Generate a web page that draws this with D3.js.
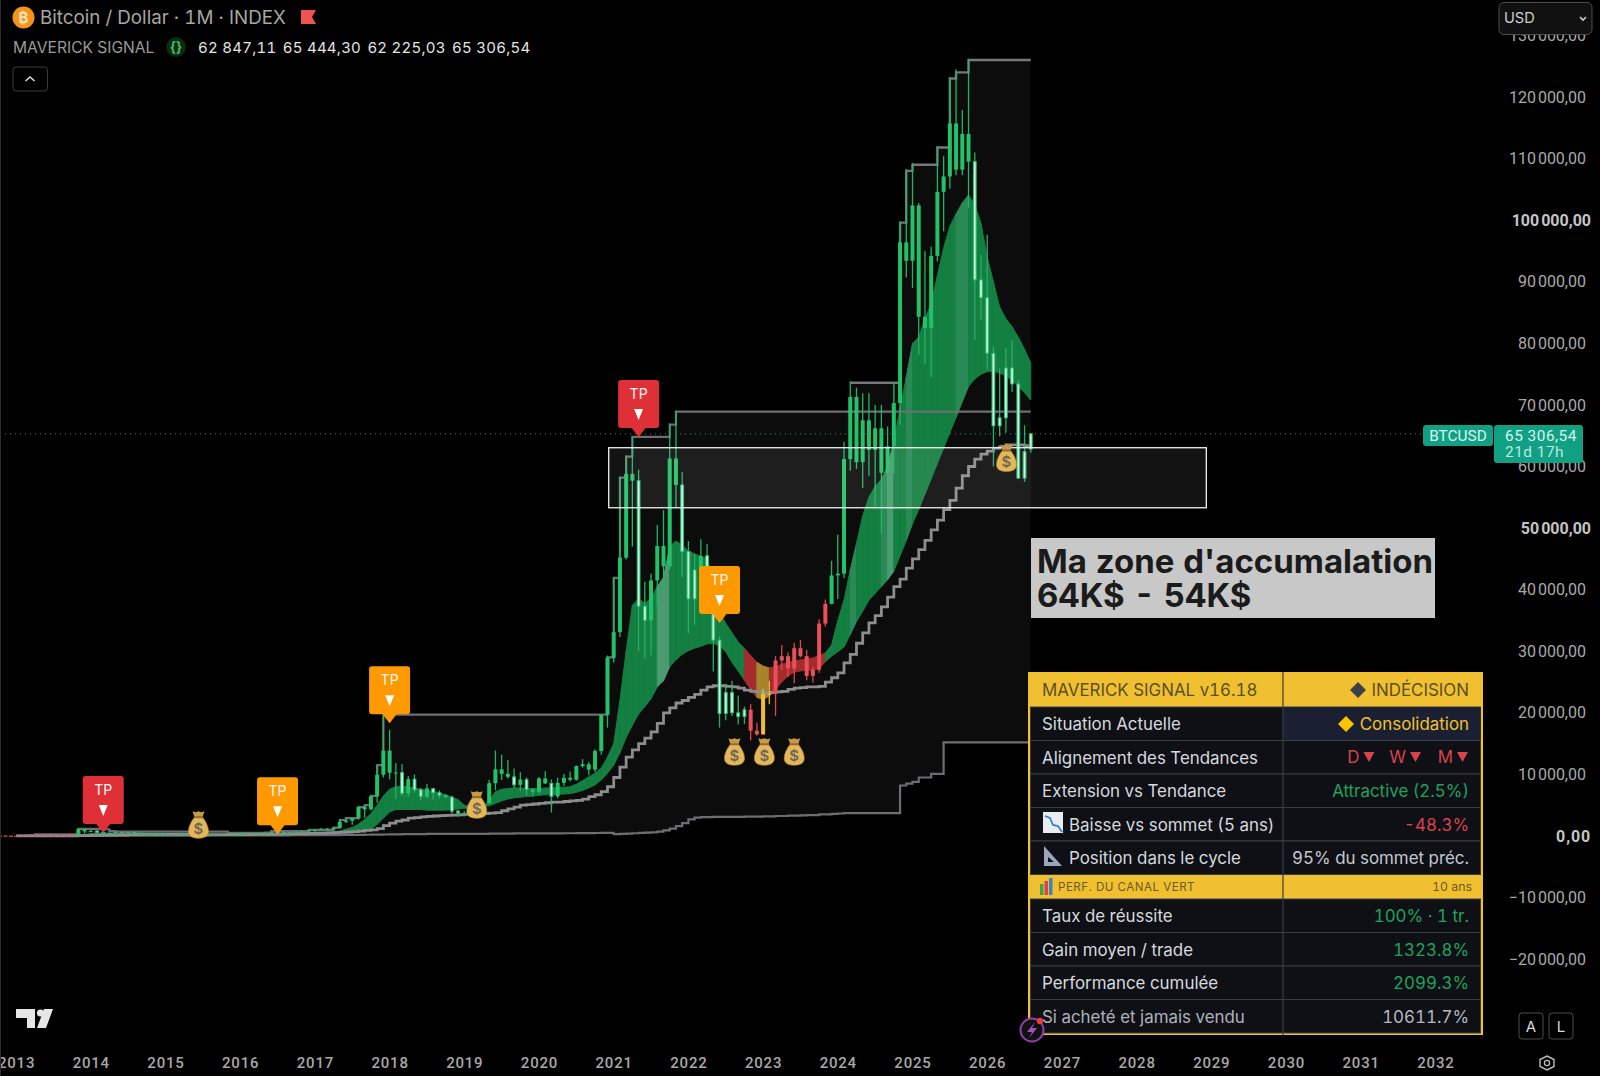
<!DOCTYPE html>
<html>
<head>
<meta charset="utf-8">
<script src="https://cdn.jsdelivr.net/npm/d3@7"></script>
<style>
  html, body { margin: 0; padding: 0; background: #000; overflow: hidden; }
  text { font-family: Inter, Roboto, sans-serif; font-feature-settings: "tnum" 1; }
</style>
</head>
<body>
<div id="chart"></div>
<script>
const WIDTH = 1600;
const HEIGHT = 1076;

// monthly bars, first one is Jan 2013, last one Aug 2026 (o, h, l, c)
const candles = [
  [13,21,13,20],[20,33,20,33],[33,95,33,93],[93,266,50,139],[139,140,65,128],[128,130,88,97],[97,110,65,105],[105,140,100,135],[135,145,120,133],[133,220,120,204],[204,1160,200,1130],[1130,1163,380,750],
  [750,1000,740,830],[830,860,400,550],[550,700,440,460],[460,550,340,445],[445,630,440,630],[630,680,530,640],[640,660,560,585],[585,600,450,480],[480,490,360,390],[390,420,275,340],[340,460,320,375],[375,385,300,320],
  [320,320,170,230],[230,265,210,255],[255,300,235,245],[245,260,215,235],[235,245,228,230],[230,270,220,265],[265,315,255,285],[285,285,200,230],[230,245,225,236],[236,335,235,315],[315,500,310,377],[377,465,350,430],
  [430,460,355,370],[370,445,365,435],[435,440,390,415],[415,470,415,450],[450,550,440,530],[530,780,530,675],[675,700,605,625],[625,625,470,575],[575,610,570,610],[610,730,605,700],[700,780,685,745],[745,980,745,965],
  [965,1150,750,970],[970,1210,930,1190],[1190,1290,900,1080],[1080,1350,1070,1350],[1350,2760,1340,2300],[2300,2990,2100,2480],[2480,2920,1830,2870],[2870,4750,2670,4700],[4700,5000,2950,4340],[4340,6470,4100,6450],[6450,11500,5400,9950],[9950,19700,9500,13860],
  [13860,17250,9200,10260],[10260,11800,6000,10300],[10300,11700,6500,6930],[6930,9760,6430,9240],[9240,10000,7030,7500],[7500,7780,5780,6400],[6400,8450,6070,7730],[7730,7740,5880,7010],[7010,7400,6100,6620],[6620,6800,6100,6320],[6320,6550,3650,4040],[4040,4240,3120,3740],
  [3740,4070,3340,3460],[3460,4200,3370,3850],[3850,4140,3730,4100],[4100,5640,4090,5300],[5300,9080,5270,8570],[8570,13880,7460,10820],[10820,13200,9100,10090],[10090,12330,9320,9600],[9600,10950,7710,8300],[8300,10370,7300,9150],[9150,9510,6550,7570],[7570,7760,6430,7190],
  [7190,9570,6850,9350],[9350,10520,8450,8550],[8550,9190,3800,6440],[6440,9470,6150,8630],[8630,10070,8100,9450],[9450,10490,8830,9140],[9140,11440,8990,11350],[11350,12480,11110,11650],[11650,12070,9860,10780],[10780,14100,10380,13800],[13800,19500,13200,19700],[19700,29300,17600,28950],
  [28950,41950,28130,33100],[33100,58350,32300,45200],[45200,61800,44900,58800],[58800,64800,47000,57700],[57700,59500,30000,37300],[37300,41300,28800,35000],[35000,42600,29300,41500],[41500,50500,37300,47100],[47100,52900,39600,43800],[43800,67000,43300,61300],[61300,69000,53300,57000],[57000,59100,42000,46200],
  [46200,47900,32900,38500],[38500,45800,34300,43200],[43200,48200,37200,45500],[45500,47400,37500,37700],[37700,40000,26700,31800],[31800,32400,17600,19900],[19900,24700,18800,23300],[23300,25200,19500,20000],[20000,22800,18100,19400],[19400,21000,18200,20500],[20500,21400,15500,17100],[17100,18400,16300,16500],
  [16500,23900,16500,23100],[23100,25200,21400,23100],[23100,29200,19500,28500],[28500,31000,26900,29200],[29200,29800,25800,27200],[27200,31400,24800,30500],[30500,31800,29000,29200],[29200,30200,25300,26000],[26000,27500,24900,27000],[27000,35200,26500,34500],[34500,38400,34000,37700],[37700,44700,37600,42300],
  [42300,48900,38500,42600],[42600,64000,41900,61200],[61200,73800,59300,71300],[71300,72800,59600,60700],[60700,71900,56500,67500],[67500,71900,58500,62700],[62700,70000,53500,66200],[66200,70000,49000,59000],[59000,66500,52600,63300],[63300,73600,58900,70300],[70300,99800,66800,96400],[96400,108300,90700,93400],
  [93400,109300,89000,102400],[102400,102800,78200,84300],[84300,95000,76600,82500],[82500,95700,74500,94200],[94200,112000,93300,104600],[104600,110400,98200,107100],[107100,123200,105100,115700],[115700,124500,107300,108200],[108200,117900,107300,114000],[114000,126200,102000,109500],[109500,111000,80600,90300],[90300,94400,83800,87400],
  [87400,97600,75700,78400],[78400,79500,60000,66600],[66600,75900,64900,67900],[67900,79300,65500,76000],[76000,80500,72100,73400],[73400,74000,58100,58100],[58100,66700,57500,62400],[62847.11,65444.30,62225.03,65306.54]
];

// g green, m mint, r red, y yellow
const candleKinds = [
  "rrrrrrrrrrgg", "gmmggggmmmgm", "mggmmggggggg", "mgggggmmgggg", "gggggggggggg", "ggmgmmgmmgmm", "ggggggggmgmg",
  "ggmggggggggg", "ggggmmgggggm", "mmgmmmmmmmrr", "yyrrrrrrrrrg", "gggggggggggg", "ggggggggggmm", "mmmmmmmm"
].join("");

// three red dashes left of the first year label
const earlyMonths = [-2.6, -1.7, -0.8];
const earlyPrices = [11, 11, 12];

const ribbonUpper = [
  20,25,30,45,60,70,80,85,95,100,130,250,
  400,450,470,480,500,520,520,510,480,440,420,400,
  350,320,300,280,270,270,270,265,260,265,280,310,
  340,350,370,390,420,470,500,510,520,540,570,620,
  600,620,650,680,800,1100,1400,1900,2700,3600,5000,6500,
  7600,8000,8100,8000,7800,7600,7400,7300,7000,6700,6300,5900,
  5000,4700,4600,4700,5800,7200,7600,7700,7800,7800,7700,7700,
  7700,7800,7800,7900,7900,8000,8400,9000,9600,10200,11000,12800,
  15000,22000,30000,37500,38500,37800,38500,40500,42000,47000,47900,47200,
  46300,45800,45400,45000,42000,36500,34500,33000,31500,30500,29300,28200,
  27600,27300,27500,27900,28200,28400,28600,28700,28900,29300,29700,31000,
  35000,38300,43200,47500,52000,55000,56800,57900,60000,64000,69500,74500,
  80000,81000,84000,86500,91000,95500,99000,101000,102800,104100,102500,99500,
  94000,90000,85900,84000,82700,81000,79000,76800
];

const ribbonLower = [
  10,12,15,20,30,40,50,55,60,65,75,100,
  150,180,210,240,270,300,320,340,340,340,335,330,
  310,290,280,265,255,250,245,240,240,240,245,255,
  270,280,290,300,320,340,370,400,420,440,460,490,
  350,370,390,420,470,520,600,720,850,1100,1900,2900,
  3900,4300,4300,4300,4300,4300,4200,4200,4200,4200,4300,4400,
  4500,4600,4700,4800,4900,5300,5700,6000,6200,6300,6400,6500,
  6600,6700,6700,6800,6800,6900,7100,7400,7800,8300,9100,10200,
  11500,13500,16000,18000,19800,21000,22300,24200,25200,27500,28600,29500,
  30100,30500,30800,31200,31300,30900,29900,28200,26800,25300,23800,22500,
  22200,22700,23800,25000,26000,26600,26800,26900,26900,27200,28300,29200,
  29900,30700,32700,34800,36500,38300,39400,40500,41600,43000,45500,48000,
  50700,53000,55500,58000,60500,63000,65500,68000,70500,73000,74200,75000,
  75400,75500,75200,74700,74000,73000,72000,70800
];

// g green, l pale stripe, s softer stripe, r red, y yellow
const ribbonKinds = [
  "gggggggggggg", "gggggggggggg", "gggggggggggg", "gggggggggggg", "gggggggggggg", "gggggggggggg", "gggggggggggg",
  "gggggggggggg", "gggggggllggg", "gggggggggrry", "yrrrrrrrrrgg", "ggsggggslggs", "gggggggssggg", "gggggggg"
].join("");

const midSteps = [
  5,6,8,10,15,20,25,30,35,40,50,70,
  100,120,140,160,180,200,220,240,250,260,260,270,
  260,250,245,240,235,230,230,225,225,225,225,230,
  235,240,250,260,270,290,310,330,350,370,390,420,
  450,480,510,550,600,650,700,800,900,1000,1200,1700,
  2100,2400,2600,2900,3000,3100,3200,3250,3300,3350,3400,3450,
  3500,3600,3600,3650,3700,3800,4100,4400,4700,5000,5100,5200,
  5300,5400,5500,5500,5600,5700,5800,6000,6400,6700,7200,8000,
  9500,11200,12800,14000,15000,15900,16900,18300,20000,20800,21600,22000,
  22500,23000,23700,24200,24400,24400,24300,24200,24000,23700,23500,23400,
  23300,23300,23400,23500,23800,24000,24100,24200,24200,24300,25000,25700,
  26500,28100,29500,31300,33000,34600,35800,37200,38800,40500,41700,43500,
  45000,46500,48000,49700,51300,53000,54500,56500,58500,60000,61200,62000,
  62500,63000,63200,63500,63500,63500,63400,63300
];

const lowSteps = [
  10,10,10,10,10,10,10,10,10,10,10,10,
  20,20,20,30,30,30,40,40,50,50,50,50,
  60,60,60,70,70,70,70,80,80,80,80,90,
  90,90,100,100,100,110,110,110,120,120,130,130,
  140,140,150,150,160,170,180,190,200,210,220,240,
  260,280,300,300,320,320,330,330,340,340,350,350,
  350,360,360,360,370,380,400,400,420,420,420,430,
  430,440,440,440,450,450,460,470,480,490,500,520,
  300,350,400,450,500,550,600,700,900,1200,1600,2100,
  2700,3000,3050,3050,3100,3100,3100,3100,3100,3150,3150,3150,
  3200,3200,3250,3250,3300,3300,3350,3400,3400,3500,3500,3600,
  3650,3700,3700,3700,3700,3700,3700,3700,3700,3700,8200,8500,
  8800,9500,9500,10100,10100,15200,15200,15200,15200,15200,15200,15200,
  15200,15200,15200,15200,15200,15200,15200,15200
];

const topSteps = [
  20,33,95,266,266,266,266,266,266,266,1160,1163,
  1163,1163,1100,800,700,700,700,700,700,700,700,700,
  700,700,700,700,700,700,700,700,700,700,500,500,
  500,500,500,500,550,780,780,780,780,780,780,980,
  980,980,1000,1350,2600,2900,2900,4700,5000,6500,11500,19700,
  19700,19700,19700,19700,19700,19700,19700,19700,19700,19700,19700,19700,
  19700,19700,19700,19700,19700,19700,19700,19700,19700,19700,19700,19700,
  19700,19700,19700,19700,19700,19700,19700,19700,19700,19700,19700,29000,
  41900,58200,61600,64800,64800,64800,64800,64800,64800,66800,68900,68900,
  68900,68900,68900,68900,68900,68900,68900,68900,68900,68900,68900,68900,
  68900,68900,68900,68900,68900,68900,68900,68900,68900,68900,68900,68900,
  68900,68900,68900,68900,68900,68900,68900,68900,68900,68900,68900,68900,
  68900,68900,68900,68900,68900,68900,68900,68900,68900,68900,68900,68900,
  68900,68900,68900,68900,68900,68900,68900,68900
];

// second resistance line, only from Mar 2024
const highStepsStart = 134;
const highSteps = [
  73600,73600,73600,73600,73600,73600,73600,73600,99600,108000,
  109000,109000,109000,109000,111800,111800,123000,124000,124000,126000,126000,126000,
  126000,126000,126000,126000,126000,126000,126000,126000
];

const yearTicks = d3.range(2013, 2033);
const priceTicks = [-20000,-10000,0,10000,20000,30000,40000,50000,60000,70000,80000,90000,100000,110000,120000,130000];
const boldPrices = [0, 50000, 100000];

// flags: month index of the bar, price of the tip
const tpMonths = [14, 42, 60, 100, 113];
const tpPrices = [490, 300, 18300, 64800, 34600];
const tpColors = ["#df3038", "#ff9900", "#ff9900", "#df3038", "#ff9900"];

const bagMonths = [29.3, 74, 115.4, 120.2, 125, 159.1];
const bagPrices = [1750, 5000, 13600, 13600, 13600, 61300];

const zoneTop = 63050;
const zoneBottom = 53300;
const zoneStartMonth = 95.2;
const zoneEndMonth = 191.2;

const tableRowsTop = [
  ["Situation Actuelle", "Consolidation", "#f2c12e"],
  ["Alignement des Tendances", "", "#d9434a"],
  ["Extension vs Tendance", "Attractive (2.5%)", "#1fa35c"],
  ["Baisse vs sommet (5 ans)", "-48.3%", "#d9434a"],
  ["Position dans le cycle", "95% du sommet préc.", "#c5c8cf"]
];
const tableRowsBottom = [
  ["Taux de réussite", "100% · 1 tr.", "#1fa35c"],
  ["Gain moyen / trade", "1323.8%", "#1fa35c"],
  ["Performance cumulée", "2099.3%", "#1fa35c"],
  ["Si acheté et jamais vendu", "10611.7%", "#b6b9c0"]
];
const trendLabels = ["D", "W", "M"];
const ohlcLabels = ["62 847,11", "65 444,30", "62 225,03", "65 306,54"];

const svg = d3.select("#chart").append("svg")
  .attr("width", WIDTH)
  .attr("height", HEIGHT)
  .style("display", "block");

svg.append("rect").attr("width", WIDTH).attr("height", HEIGHT).attr("fill", "#000");

// scales: x is in months since Jan 2013
const x = d3.scaleLinear().domain([0, 240]).range([16.1, 1510.1]);
const y = d3.scaleLinear().domain([0, 120000]).range([836, 97]);

const frNumber = d3.formatLocale({ decimal: ",", thousands: "\u202f", grouping: [3], currency: ["", ""], minus: "\u2212" }).format(",.2f");

const months = d3.range(candles.length);
const topOf = (i) => i >= highStepsStart ? highSteps[i - highStepsStart] : topSteps[i];

// faint panel between the outer step lines
svg.append("path")
  .attr("fill", "#0c0c0c")
  .attr("d", d3.area()
    .curve(d3.curveStepAfter)
    .x(i => x(i))
    .y0(i => y(lowSteps[i]))
    .y1(i => y(topOf(i)))(months));

// ribbon, coloured month by month
const ribbonColors = { g: "#137f41", l: "#4b9a70", s: "#2a8a55", r: "#a52c2e", y: "#a5842b" };
const ribbonArea = d3.area().x(i => x(i)).y0(i => y(ribbonLower[i])).y1(i => y(ribbonUpper[i]));
svg.append("g").selectAll("path")
  .data(months.slice(0, -1))
  .enter().append("path")
  .attr("fill", i => ribbonColors[ribbonKinds[i]])
  .attr("stroke", i => ribbonColors[ribbonKinds[i]])
  .attr("stroke-width", 1)
  .attr("d", i => ribbonArea([i, i + 1]));

// step lines
const stepLine = d3.line().curve(d3.curveStepAfter).x(d => x(d[0])).y(d => y(d[1]));
const stepSeries = [
  { values: months.map(i => [i, topSteps[i]]), color: "#6e6e72", width: 2.2 },
  { values: highSteps.map((v, k) => [highStepsStart + k, v]), color: "#77777b", width: 2.4 },
  { values: months.map(i => [i, lowSteps[i]]), color: "#6e6e72", width: 2.2 },
  { values: months.map(i => [i, midSteps[i]]), color: "#8d8d8f", width: 2.8 }
];
svg.append("g").selectAll("path")
  .data(stepSeries)
  .enter().append("path")
  .attr("fill", "none")
  .attr("stroke", d => d.color)
  .attr("stroke-width", d => d.width)
  .attr("d", d => stepLine(d.values));

// price line
svg.append("line")
  .attr("x1", 0).attr("x2", 1423)
  .attr("y1", y(65306.54)).attr("y2", y(65306.54))
  .attr("stroke", "#1f8f78")
  .attr("stroke-width", 1)
  .attr("stroke-dasharray", "1 4");

// red dashes before the first bar
svg.append("g").selectAll("rect")
  .data(earlyMonths)
  .enter().append("rect")
  .attr("x", d => x(d) - 2)
  .attr("y", (d, k) => y(earlyPrices[k]) - 0.5)
  .attr("width", 4)
  .attr("height", 1.5)
  .attr("fill", "#c0424a");

// candles
const wickColors = { g: "#23b565", m: "#2aae6c", r: "#e0474f", y: "#eab82e" };
const bodyColors = { g: "#23c268", m: "#c4f5da", r: "#e9505a", y: "#f0bf30" };
const edgeColors = { g: "#23c268", m: "#2bb873", r: "#e9505a", y: "#f0bf30" };
const candleG = svg.append("g").selectAll("g")
  .data(months)
  .enter().append("g");
candleG.append("line")
  .attr("x1", i => x(i)).attr("x2", i => x(i))
  .attr("y1", i => y(candles[i][1]))
  .attr("y2", i => y(candles[i][2]))
  .attr("stroke", i => wickColors[candleKinds[i]])
  .attr("stroke-width", 1.3);
candleG.append("rect")
  .attr("x", i => x(i) - (candleKinds[i] === "m" ? 1.4 : 2))
  .attr("width", i => candleKinds[i] === "m" ? 2.8 : 4)
  .attr("y", i => Math.min(y(candles[i][0]), y(candles[i][3])))
  .attr("height", i => Math.max(1, Math.abs(y(candles[i][0]) - y(candles[i][3]))))
  .attr("fill", i => bodyColors[candleKinds[i]])
  .attr("stroke", i => edgeColors[candleKinds[i]])
  .attr("stroke-width", i => candleKinds[i] === "m" ? 1 : 0);

// accumulation zone
svg.append("rect")
  .attr("x", x(zoneStartMonth))
  .attr("width", x(zoneEndMonth) - x(zoneStartMonth))
  .attr("y", y(zoneTop))
  .attr("height", y(zoneBottom) - y(zoneTop))
  .attr("fill", "rgba(255,255,255,0.075)")
  .attr("stroke", "#f2f2f2")
  .attr("stroke-width", 1.3);

// money bags
const bag = svg.append("g").selectAll("g")
  .data(bagMonths)
  .enter().append("g")
  .attr("transform", (d, k) => `translate(${x(d)},${y(bagPrices[k])})`);
bag.append("path")
  .attr("fill", "#e6b758")
  .attr("stroke", "#b98d3a")
  .attr("stroke-width", 0.6)
  .attr("d", "M-4,-8 C-8,-3 -10,2 -10,6 C-10,11 -6,13 0,13 C6,13 10,11 10,6 C10,2 8,-3 4,-8 Z");
bag.append("path")
  .attr("fill", "#c99a45")
  .attr("d", "M-6,-14 L-3,-13 L0,-14 L3,-13 L6,-14 L4,-8 L-4,-8 Z");
bag.append("rect")
  .attr("x", -4.5).attr("y", -9).attr("width", 9).attr("height", 2)
  .attr("fill", "#8f6c2c");
bag.append("text")
  .attr("y", 8.5)
  .attr("text-anchor", "middle")
  .attr("font-size", 15)
  .attr("font-weight", 600)
  .attr("fill", "#6f675a")
  .text("$");

// TP flags
const flag = svg.append("g").selectAll("g")
  .data(tpMonths)
  .enter().append("g")
  .attr("transform", (d, k) => `translate(${x(d)},${y(tpPrices[k])})`);
flag.append("path")
  .attr("fill", (d, k) => tpColors[k])
  .attr("d", "M0,0 L-7,-9 L-17.5,-9 Q-20.5,-9 -20.5,-12 L-20.5,-54 Q-20.5,-57 -17.5,-57 L17.5,-57 Q20.5,-57 20.5,-54 L20.5,-12 Q20.5,-9 17.5,-9 L7,-9 Z");
flag.append("text")
  .attr("y", -38)
  .attr("text-anchor", "middle")
  .attr("font-size", 14)
  .attr("fill", "#f6f6f6")
  .text("TP");
flag.append("path")
  .attr("fill", "#fff")
  .attr("d", "M-4.5,-28 L4.5,-28 L0,-17 Z");

// y axis
const yAxis = svg.append("g")
  .attr("transform", "translate(1586,0)")
  .call(d3.axisRight(y).tickValues(priceTicks).tickFormat(frNumber).tickSize(0).tickPadding(0));
yAxis.select(".domain").remove();
yAxis.selectAll("text")
  .attr("text-anchor", "end")
  .attr("x", d => boldPrices.includes(d) ? 5 : 0)
  .attr("font-size", 16)
  .attr("letter-spacing", "0.85")
  .attr("font-weight", d => boldPrices.includes(d) ? 700 : 400)
  .attr("fill", d => boldPrices.includes(d) ? "#c4c4c4" : "#a9a9a9")
  .style("font-family", "Roboto");

// x axis
const xAxis = svg.append("g")
  .attr("transform", "translate(0,1063)")
  .call(d3.axisBottom(x).tickValues(yearTicks.map(v => (v - 2013) * 12)).tickFormat(d => 2013 + d / 12).tickSize(0).tickPadding(0));
xAxis.select(".domain").remove();
xAxis.selectAll("text")
  .attr("y", 0)
  .attr("dy", "0.36em")
  .attr("font-size", 15)
  .attr("font-weight", 500)
  .attr("letter-spacing", "0.8")
  .attr("fill", "#a8a8a8")
  .style("font-family", "Roboto");

// left frame edge
svg.append("line").attr("x1", 0.5).attr("x2", 0.5).attr("y1", 0).attr("y2", 1076).attr("stroke", "#2c2c2c");

// BTCUSD tag
svg.append("rect").attr("x", 1423).attr("y", 425).attr("width", 70).attr("height", 21).attr("rx", 3).attr("fill", "#12a085");
svg.append("rect").attr("x", 1494).attr("y", 425).attr("width", 89).attr("height", 38).attr("rx", 3).attr("fill", "#12a085");
svg.append("text").attr("x", 1458).attr("y", 441).attr("text-anchor", "middle").attr("font-size", 15.4).attr("fill", "#d8f5ee").style("font-family", "Roboto").text("BTCUSD");
svg.append("text").attr("x", 1505).attr("y", 440.5).attr("font-size", 15.4).attr("letter-spacing", "0.5").attr("fill", "#d8f5ee").style("font-family", "Roboto").text("65 306,54");
svg.append("text").attr("x", 1505).attr("y", 457).attr("font-size", 15.4).attr("letter-spacing", "0.5").attr("fill", "#b9e8dc").style("font-family", "Roboto").text("21d 17h");

// annotation
svg.append("rect").attr("x", 1031).attr("y", 538).attr("width", 404).attr("height", 80).attr("fill", "#c8c8c8");
svg.append("text").attr("x", 1037).attr("y", 573).attr("font-size", 33).attr("font-weight", 700).attr("fill", "#1b1b1b").text("Ma zone d'accumalation");
svg.append("text").attr("x", 1037).attr("y", 607).attr("font-size", 33).attr("font-weight", 700).attr("fill", "#1b1b1b").text("64K$ - 54K$");

// signal table
const tableLeft = 1028, tableRight = 1483, tableMid = 1283;
const gold = "#f0c030";
const table = svg.append("g");
table.append("rect").attr("x", tableLeft).attr("y", 672).attr("width", tableRight - tableLeft).attr("height", 363).attr("fill", gold);
const drawRows = (rows, top, step) => {
  rows.forEach((r, k) => {
    const ry = top + k * step;
    table.append("rect").attr("x", tableLeft + 2.5).attr("y", ry).attr("width", tableRight - tableLeft - 5).attr("height", step).attr("fill", "#0e1016").attr("stroke", "#3a3d44").attr("stroke-width", 1);
    if (r[0] === "Situation Actuelle") {
      table.append("rect").attr("x", tableMid).attr("y", ry + 0.5).attr("width", tableRight - 2.5 - tableMid).attr("height", step - 1).attr("fill", "#1a2031");
    }
    table.append("text").attr("x", r[0].startsWith("Baisse") || r[0].startsWith("Position") ? 1069 : 1042).attr("y", ry + step / 2 + 6.5)
      .attr("font-size", 16.9).attr("fill", r[0].startsWith("Si ach") ? "#b0b3ba" : "#d7d9de").text(r[0]);
    table.append("text").attr("x", 1469).attr("y", ry + step / 2 + 6.5)
      .attr("text-anchor", "end").attr("font-size", 16.9).attr("fill", r[2]).text(r[1]);
  });
};
drawRows(tableRowsTop, 707, 33.5);
drawRows(tableRowsBottom, 899, 33.5);
table.append("line").attr("x1", tableMid).attr("x2", tableMid).attr("y1", 672).attr("y2", 1035).attr("stroke", "#3a3d44").attr("stroke-width", 1.2);
table.append("text").attr("x", 1042).attr("y", 696).attr("font-size", 16.9).attr("fill", "#5a4f27").text("MAVERICK SIGNAL v16.18");
table.append("text").attr("x", 1469).attr("y", 696).attr("text-anchor", "end").attr("font-size", 16.9).attr("fill", "#5a4f27").text("INDÉCISION");
table.append("path").attr("d", "M1350,690 l8,-8 l8,8 l-8,8 Z").attr("fill", "#3c4048");
table.append("path").attr("d", "M1338,724 l8,-8 l8,8 l-8,8 Z").attr("fill", "#ffc400");
table.append("text").attr("x", 1058).attr("y", 891).attr("font-size", 11.6).attr("letter-spacing", "0.5").attr("fill", "#6a5c28").text("PERF. DU CANAL VERT");
table.append("text").attr("x", 1472).attr("y", 891).attr("text-anchor", "end").attr("font-size", 12.3).attr("fill", "#6a5c28").text("10 ans");

// D / W / M trend marks
trendLabels.forEach((label, k) => {
  const right = [1374.5, 1421, 1468][k];
  table.append("text").attr("x", right - 15).attr("y", 763).attr("text-anchor", "end").attr("font-size", 16.9).attr("fill", "#d9434a").text(label);
  table.append("path").attr("d", `M${right - 11},752 L${right},752 L${right - 5.5},762 Z`).attr("fill", "#d9434a");
});

// small table icons
table.append("rect").attr("x", 1043).attr("y", 812).attr("width", 20).attr("height", 21).attr("fill", "#e8edf2");
table.append("path").attr("d", "M1045,816 L1050,818 L1053,825 L1058,826 L1062,832").attr("fill", "none").attr("stroke", "#3b82c4").attr("stroke-width", 1.8);
table.append("path").attr("d", "M1044,846 L1044,866 L1062,866 Z M1048,857 L1048,862 L1054,862 Z").attr("fill", "#9aa7b8").attr("fill-rule", "evenodd");
table.append("rect").attr("x", 1040).attr("y", 884).attr("width", 3.5).attr("height", 11).attr("fill", "#3fa34d");
table.append("rect").attr("x", 1044.5).attr("y", 881).attr("width", 3.5).attr("height", 14).attr("fill", "#d9434a");
table.append("rect").attr("x", 1049).attr("y", 878).attr("width", 3.5).attr("height", 17).attr("fill", "#3b82c4");

// bolt badge
svg.append("circle").attr("cx", 1032).attr("cy", 1030).attr("r", 11.5).attr("fill", "#111").attr("stroke", "#8e3fa8").attr("stroke-width", 2);
svg.append("path").attr("d", "M1035,1022 L1027,1032 L1032,1032 L1029,1038 L1037,1028 L1032,1028 Z").attr("fill", "#a64fc4");
svg.append("circle").attr("cx", 1040).attr("cy", 1021).attr("r", 3.2).attr("fill", "#ee3b3b");

// header
svg.append("circle").attr("cx", 23.5).attr("cy", 17.5).attr("r", 11).attr("fill", "#f7931a");
svg.append("text").attr("x", 23.5).attr("y", 23).attr("text-anchor", "middle").attr("font-size", 15).attr("font-weight", 700).attr("fill", "#fde3c0").text("₿");
svg.append("text").attr("x", 40).attr("y", 24).attr("font-size", 18.8).attr("fill", "#a6a6a6").text("Bitcoin / Dollar · 1M · INDEX");
svg.append("path").attr("d", "M301,10 L316,10 L312,17 L316,24 L301,24 Z").attr("fill", "#ef5350");
svg.append("text").attr("x", 13).attr("y", 52.5).attr("font-size", 15.6).attr("fill", "#9a9a9a").text("MAVERICK SIGNAL");
svg.append("circle").attr("cx", 176).attr("cy", 47).attr("r", 10).attr("fill", "#0c2a14");
svg.append("text").attr("x", 176).attr("y", 52).attr("text-anchor", "middle").attr("font-size", 14).attr("font-weight", 700).attr("fill", "#3ec45f").text("{}");
svg.append("g").selectAll("text")
  .data(ohlcLabels)
  .enter().append("text")
  .attr("x", (d, k) => 198 + k * 84.7)
  .attr("y", 52.5)
  .attr("font-size", 15)
  .attr("letter-spacing", "0.25")
  .attr("fill", "#e4e4e4")
  .text(d => d);
svg.append("rect").attr("x", 13).attr("y", 67).attr("width", 34.5).attr("height", 24).attr("rx", 3).attr("fill", "none").attr("stroke", "#3a3a3a");
svg.append("path").attr("d", "M25.5,81 L30,77 L34.5,81").attr("fill", "none").attr("stroke", "#d8d8d8").attr("stroke-width", 1.6);

// USD selector sits on top of the 130 000 tick
svg.append("rect").attr("x", 1499).attr("y", 2.5).attr("width", 93).attr("height", 32).attr("rx", 5).attr("fill", "#111").attr("stroke", "#4d4d4d");
svg.append("text").attr("x", 1504).attr("y", 23).attr("font-size", 14.6).attr("fill", "#cfcfcf").text("USD");
svg.append("path").attr("d", "M1580,17 L1583,20 L1586,17").attr("fill", "none").attr("stroke", "#cfcfcf").attr("stroke-width", 1.6);

// TradingView mark
svg.append("path").attr("d", "M16,1009 L35,1009 L35,1028 L27,1028 L27,1018 L16,1018 Z M44,1009 L53,1009 L46,1028 L37,1028 Z").attr("fill", "#e6e6e6");
svg.append("circle").attr("cx", 40.5).attr("cy", 1013).attr("r", 3.6).attr("fill", "#e6e6e6");

// A / L buttons and settings
[["A", 1519], ["L", 1549]].forEach(([label, bx]) => {
  svg.append("rect").attr("x", bx).attr("y", 1013).attr("width", 24).attr("height", 26).attr("rx", 3).attr("fill", "#000").attr("stroke", "#4a4a4a");
  svg.append("text").attr("x", bx + 12).attr("y", 1031.5).attr("text-anchor", "middle").attr("font-size", 15).attr("fill", "#d8d8d8").text(label);
});
svg.append("path").attr("d", "M1547,1056 L1554,1059.5 L1554,1066.5 L1547,1070 L1540,1066.5 L1540,1059.5 Z").attr("fill", "none").attr("stroke", "#bdbdbd").attr("stroke-width", 1.4);
svg.append("circle").attr("cx", 1547).attr("cy", 1063).attr("r", 2.6).attr("fill", "none").attr("stroke", "#bdbdbd").attr("stroke-width", 1.3);
</script>
</body>
</html>
